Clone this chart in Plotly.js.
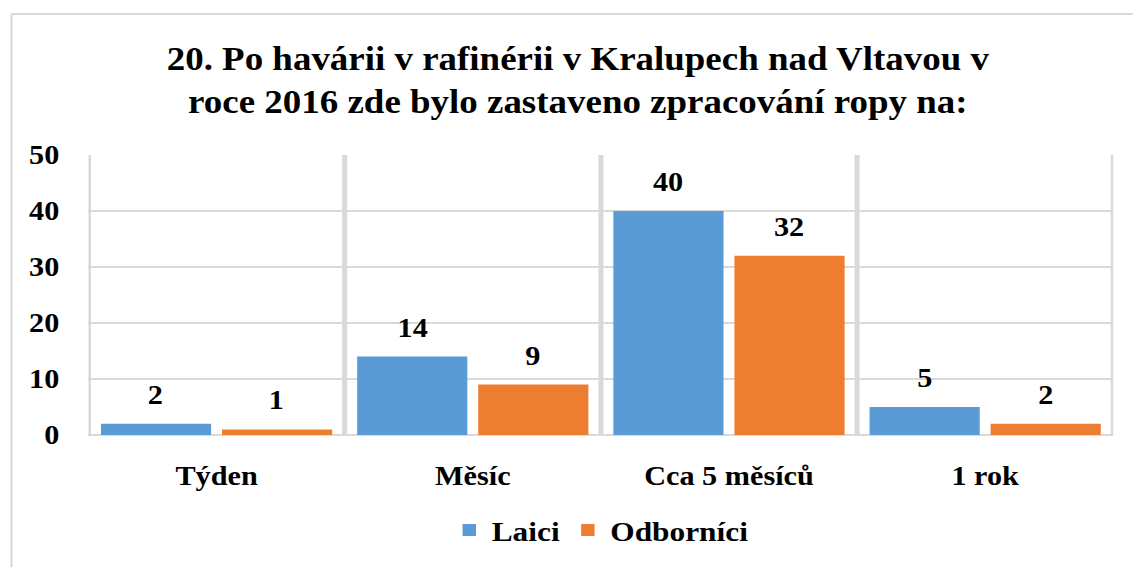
<!DOCTYPE html>
<html><head><meta charset="utf-8">
<script src="https://cdn.plot.ly/plotly-3.0.1.min.js"></script>
<style>
html,body{margin:0;padding:0;background:#fff;overflow:hidden;}
#plotarea{transform-origin:0 0;}
svg text, svg tspan{font-family:'Liberation Serif','Times New Roman',serif !important;}
</style></head>
<body><div id="plotarea"></div>
<script>
const categories = ["Týden", "Měsíc", "Cca 5 měsíců", "1 rok"];
const laici = [2, 14, 40, 5];
const odbornici = [1, 9, 32, 2];
const seriesNames = ["Laici", "Odborníci"];
const yTicks = [0, 10, 20, 30, 40, 50];
const titleText = "20. Po havárii v rafinérii v Kralupech nad Vltavou v<br>roce 2016 zde bylo zastaveno zpracování ropy na:";

const FONT = "Liberation Serif";
const blue = "#5b9bd5", orange = "#ed7d31", grid = "#d9d9d9";
const SX = 1.12;                 // horizontal stretch of the original picture
const hx = v => v / SX;

const el = document.getElementById("plotarea");
el.style.width = hx(1133) + "px";
el.style.height = "567px";
el.style.transform = "scale(" + SX + ",1)";

const traces = [
  {type: "bar", name: "<b>" + seriesNames[0] + "</b>", x: categories, y: laici, marker: {color: blue}, hoverinfo: "none"},
  {type: "bar", name: "<b>" + seriesNames[1] + "</b>", x: categories, y: odbornici, marker: {color: orange}, hoverinfo: "none"}
];

const annotations = [];
[laici, odbornici].forEach((vals, si) => {
  vals.forEach((v, i) => {
    annotations.push({
      x: categories[i], y: v, xref: "x", yref: "y",
      text: "<b>" + v + "</b>", showarrow: false,
      xshift: (si === 0 ? -1 : 1) * hx(60.5), yshift: 12, yanchor: "bottom",
      font: {family: FONT, size: 27, color: "#000"}
    });
  });
});

const shapes = [];
for (let k = 0; k <= categories.length; k++) {
  shapes.push({type: "line", xref: "x", yref: "paper", x0: k - 0.5, x1: k - 0.5, y0: 0, y1: 1,
    line: {color: grid, width: 4.5}, layer: "below"});
}
// outer chart frame (top and left edges visible)
shapes.push({type: "line", xref: "paper", yref: "paper", x0: -0.0751, x1: 1.2, y0: 1.5035, y1: 1.5035,
  line: {color: grid, width: 2}, layer: "below"});
shapes.push({type: "line", xref: "paper", yref: "paper", x0: -0.0751, x1: -0.0751, y0: -0.7, y1: 1.5035,
  line: {color: grid, width: 2}, layer: "below"});

const layout = {
  width: hx(1133), height: 567,
  margin: {l: hx(88), r: hx(20), t: 155, b: 130},
  paper_bgcolor: "#fff", plot_bgcolor: "#fff",
  font: {family: FONT, color: "#000"},
  title: {text: "<b>" + titleText + "</b>", x: 0.51, xanchor: "center", y: 0.876, yanchor: "top",
    font: {family: FONT, size: 33, color: "#000"}},
  barmode: "group", bargap: 0.055, bargroupgap: 0.09,
  xaxis: {type: "category", range: [-0.5, 3.5], showgrid: false, zeroline: false, showline: false,
    ticks: "", ticklabelstandoff: 22,
    tickvals: categories, ticktext: categories.map(c => "<b>" + c + "</b>"),
    tickfont: {family: FONT, size: 27, color: "#000"}},
  yaxis: {range: [0, 50], tickvals: yTicks, ticktext: yTicks.map(v => "<b>" + v + "</b>"),
    showgrid: true, gridcolor: grid, gridwidth: 2, zeroline: true, zerolinecolor: grid, zerolinewidth: 2,
    showline: false, ticks: "", ticklabelstandoff: 25,
    tickfont: {family: FONT, size: 27, color: "#000"}},
  showlegend: true,
  legend: {orientation: "h", x: 0.5, xanchor: "center", y: -0.34, yanchor: "middle",
    font: {family: FONT, size: 28, color: "#000"}, itemwidth: 30},
  annotations: annotations,
  shapes: shapes
};

Plotly.newPlot("plotarea", traces, layout, {staticPlot: true});
</script></body></html>
